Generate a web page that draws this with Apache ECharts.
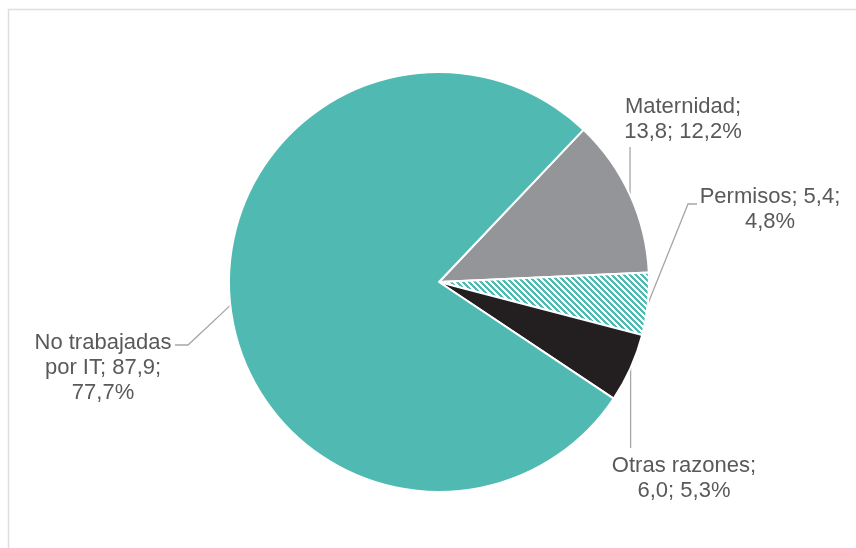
<!DOCTYPE html>
<html>
<head>
<meta charset="utf-8">
<script src="https://cdn.jsdelivr.net/npm/echarts@6/dist/echarts.min.js"></script>
<style>
  html, body { margin: 0; padding: 0; background: #ffffff; }
  #chart { width: 856px; height: 548px; }
</style>
</head>
<body>
<div id="chart"></div>
<script>
// Reasons for non-worked hours (clockwise from the "Maternidad" slice)
const categories = ['Maternidad', 'Permisos', 'Otras razones', 'No trabajadas\npor IT'];
const values = [13.8, 5.4, 6.0, 87.9];
// after which "; "-separated part the label wraps to a new line
const labelBreakAfter = [1, 2, 1, 2];

const TEAL = '#50bab2';
const GREY = '#939598';
const BLACK = '#231f20';
const TEXT = '#595959';

// white ground with thin diagonal teal stripes
function stripePattern() {
  const size = 6;
  const c = document.createElement('canvas');
  c.width = size; c.height = size;
  const ctx = c.getContext('2d');
  ctx.fillStyle = '#ffffff';
  ctx.fillRect(0, 0, size, size);
  ctx.fillStyle = TEAL;
  for (let y = 0; y < size; y++) {
    for (let x = 0; x < size; x++) {
      if (((x - y) % size + size) % size < 3) ctx.fillRect(x, y, 1, 1);
    }
  }
  return c;
}

const sliceColors = [GREY, { image: stripePattern(), repeat: 'repeat' }, BLACK, TEAL];

const total = values.reduce((a, b) => a + b, 0);
const fmt = v => v.toFixed(1).replace('.', ',');

// label anchor (centre of text block) and leader-line bends
const labelPlacement = [
  { x: 683, y: 119, bends: [[null, 147]] },
  { x: 770, y: 209, bends: [[688, 204], [697, 204]] },
  { x: 684, y: 478, bends: [[null, 448]] },
  { x: 103, y: 368, bends: [[188, 345], [175, 345]] }
];

const chart = echarts.init(document.getElementById('chart'), null, { renderer: 'canvas' });

chart.setOption({
  animation: false,
  backgroundColor: '#ffffff',
  graphic: [{
    type: 'rect',
    shape: { x: 8.5, y: 9.5, width: 900, height: 600 },
    style: { fill: 'none', stroke: '#dedede', lineWidth: 1.5 },
    silent: true
  }],
  series: [{
    type: 'pie',
    center: [439, 282],
    radius: 210,
    startAngle: 46.5,
    clockwise: true,
    avoidLabelOverlap: false,
    emphasis: { disabled: true },
    itemStyle: { borderColor: '#ffffff', borderWidth: 2 },
    data: categories.map((name, i) => ({
      name: name,
      value: values[i],
      itemStyle: { color: sliceColors[i] }
    })),
    label: {
      show: true,
      position: 'outside',
      color: TEXT,
      fontFamily: '"Liberation Sans", Arial, sans-serif',
      fontSize: 22,
      lineHeight: 25,
      align: 'center',
      formatter: function (p) {
        const parts = [p.name, fmt(p.value), fmt(p.value / total * 100) + '%'];
        const k = labelBreakAfter[p.dataIndex];
        return parts.slice(0, k).join('; ') + ';\n' + parts.slice(k).join('; ');
      }
    },
    labelLine: {
      show: true,
      length: 10,
      length2: 10,
      lineStyle: { color: '#a6a6a6', width: 1.3 }
    },
    labelLayout: function (params) {
      const cfg = labelPlacement[params.dataIndex];
      const p0 = params.labelLinePoints[0];
      const pts = [p0].concat(cfg.bends.map(b => [b[0] === null ? p0[0] : b[0], b[1]]));
      return {
        x: cfg.x,
        y: cfg.y,
        align: 'center',
        verticalAlign: 'middle',
        labelLinePoints: pts
      };
    }
  }]
});
</script>
</body>
</html>
